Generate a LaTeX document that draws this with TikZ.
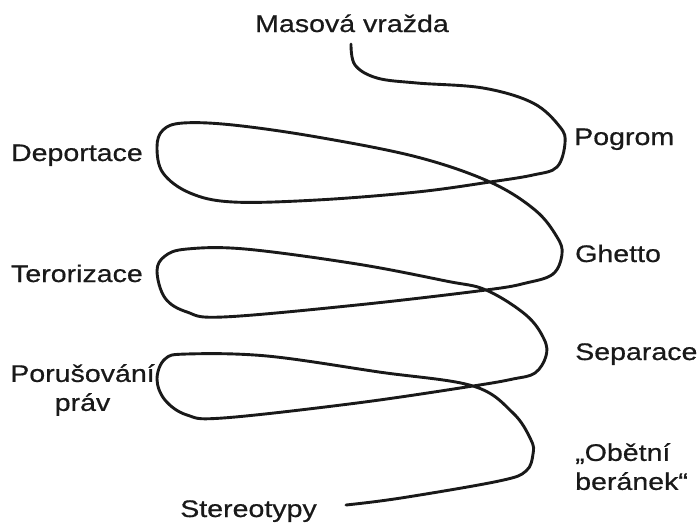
\documentclass[tikz,border=0pt]{standalone}
\usepackage{fontspec}
\setmainfont{Liberation Sans}
\newfontfamily\labelfont[FakeStretch=1.19, FakeBold=0.6]{Liberation Sans}
\begin{document}
\begin{tikzpicture}[x=1pt, y=-1pt,
  lbl/.style={inner sep=0pt, text=black!90, font=\labelfont\fontsize{24}{29}\selectfont},
  coil/.style={line width=2.9pt, draw=black!90, line cap=round, line join=round}]
\useasboundingbox (0,0) rectangle (699,531);
\node[lbl, anchor=base] (murder) at (352,32) {Masová vražda};
\node[lbl, anchor=base west] (pogrom) at (574,145) {Pogrom};
\node[lbl, anchor=base west] (ghetto) at (575,262) {Ghetto};
\node[lbl, anchor=base west] (separation) at (575,360) {Separace};
\node[lbl, anchor=north west, align=left] (scapegoat) at (575,443) {„Obětní\\beránek“};
\node[lbl, anchor=base east] (deportation) at (143,161) {Deportace};
\node[lbl, anchor=base east] (terror) at (143,282) {Terorizace};
\node[lbl, anchor=north, align=center] (rights) at (82.5,364) {Porušování\\práv};
\node[lbl, anchor=base] (stereo) at (248.5,517) {Stereotypy};
% the coil, from the top down
\draw[coil] plot[smooth, tension=0.6] coordinates {
  (351,44) (355,65) (377,78) (417,83) (483,88) (533,103) (560,127) (565,143)
  (557,167) (533,175) (490,182) (417,192) (317,200) (233,202) (190,193)
  (163,173) (157,147) (163,130) (183,123) (233,125) (317,137) (417,157)
  (490,182) (535,210) (557,237) (562,254) (553,274) (526,283) (486,290)
  (357,305) (223,317) (187,312) (165,298) (157,271) (165,256) (187,249)
  (245,249) (357,264) (446,281) (486,290) (526,315) (544,339) (546,356)
  (535,373) (513,379) (473,386) (357,403) (223,418) (187,415) (165,400)
  (157,379) (165,359) (187,354) (267,356) (379,372) (473,386) (513,413)
  (531,440) (533,454) (526,471) (499,481) (401,498) (346,505)};
\end{tikzpicture}
\end{document}
